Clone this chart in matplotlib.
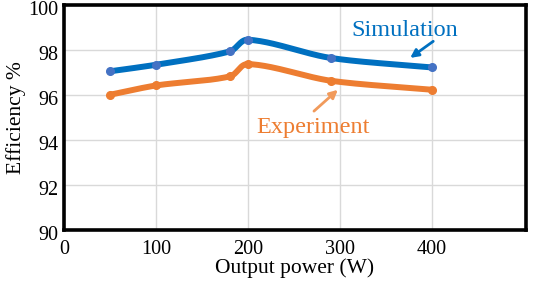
import numpy as np
import matplotlib
matplotlib.use("Agg")
import matplotlib.pyplot as plt
from matplotlib.transforms import ScaledTranslation

power = [50, 100, 180, 200, 290, 400]
simulation = [97.04, 97.33, 97.92, 98.44, 97.63, 97.21]
experiment = [96.00, 96.41, 96.81, 97.36, 96.62, 96.22]
x_ticks = [0, 100, 200, 300, 400]
y_ticks = [90, 92, 94, 96, 98, 100]

plt.rcParams['font.family'] = ['Liberation Serif', 'DejaVu Serif']


def smooth(x, y, n=40, k=0.3):
    # smoothed line through points (tangent ~ neighbours, length ~ segment)
    x = np.asarray(x, float)
    y = np.asarray(y, float)
    P = np.column_stack([x, y * 40.0])
    m = len(P)
    xs, ys = [], []
    for i in range(m - 1):
        p0 = P[max(i - 1, 0)]
        p1, p2 = P[i], P[i + 1]
        p3 = P[min(i + 2, m - 1)]
        seg = np.linalg.norm(p2 - p1)
        d1 = p2 - p0
        d2 = p3 - p1
        c1 = p1 + d1 / np.linalg.norm(d1) * seg * k
        c2 = p2 - d2 / np.linalg.norm(d2) * seg * k
        s = np.linspace(0, 1, n)[:, None]
        b = ((1 - s) ** 3) * p1 + 3 * ((1 - s) ** 2) * s * c1 + 3 * (1 - s) * s ** 2 * c2 + s ** 3 * p2
        xs.extend(b[:, 0]); ys.extend(b[:, 1] / 40.0)
    return np.array(xs), np.array(ys)


fig = plt.figure(figsize=(5.33, 2.82), dpi=100)
ax = fig.add_axes([0.1206, 0.1844, 0.8654, 0.7996])

blue = '#0070C0'
orange = '#ED7D31'

sx, sy = smooth(power, simulation)
ex, ey = smooth(power, experiment)
ax.plot(sx, sy, color=blue, lw=4.3, solid_capstyle='round', zorder=3)
ax.plot(power, simulation, 'o', color='#4472C4', ms=5.5, zorder=4)
ax.plot(ex, ey, color=orange, lw=4.3, solid_capstyle='round', zorder=3)
ax.plot(power, experiment, 'o', color=orange, ms=5.5, zorder=4)

ax.set_xlim(0, 502)
ax.set_ylim(90, 100)
ax.set_xticks(x_ticks)
ax.set_yticks(y_ticks)
ax.grid(True, color='#D9D9D9', lw=1)
ax.set_axisbelow(True)
ax.tick_params(length=0, labelsize=14.5, pad=4)
ax.tick_params(axis='x', pad=7)
for s in ax.spines.values():
    s.set_linewidth(2.6)
    s.set_color('black')

off = ScaledTranslation(0, -3.5 / 100, fig.dpi_scale_trans)
for lab in ax.get_yticklabels():
    lab.set_transform(lab.get_transform() + off)

ax.set_xlabel('Output power (W)', fontsize=15.5, labelpad=0)
ax.set_ylabel('Efficiency %', fontsize=15.5, labelpad=2)

ax.text(370, 98.62, 'Simulation', color=blue, fontsize=17.5, ha='center', va='baseline')
ax.annotate('', xy=(374, 97.56), xytext=(404, 98.44),
            arrowprops=dict(arrowstyle='-|>', color=blue, lw=2, mutation_scale=12))
ax.text(271, 94.30, 'Experiment', color=orange, fontsize=17.5, ha='center', va='baseline')
ax.annotate('', xy=(300, 96.30), xytext=(269.5, 95.19),
            arrowprops=dict(arrowstyle='-|>', color='#F19A5B', lw=2, mutation_scale=12))

fig.savefig('out.png', dpi=100)
